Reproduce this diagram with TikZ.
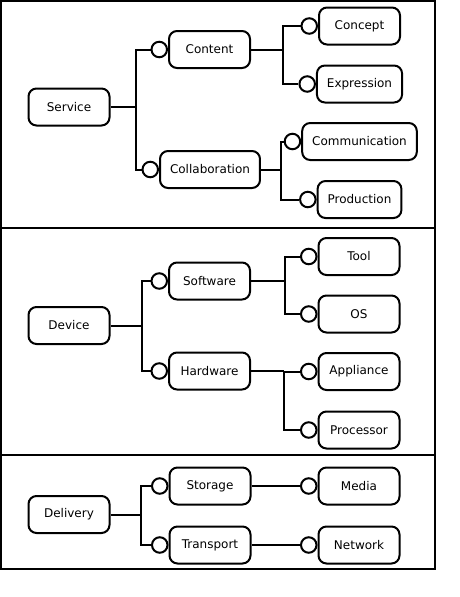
\documentclass[tikz,border=0pt]{standalone}
\usepackage{fontspec}
\setmainfont{DejaVu Sans}
\usepackage{tikz}
\usetikzlibrary{positioning}

\begin{document}
\begin{tikzpicture}[x=1pt, y=-1pt, line width=2pt,
  box/.style={draw, rounded corners=8pt, minimum width=81pt, minimum height=37pt,
    inner xsep=10pt, font=\fontsize{12}{14}\selectfont},
  port/.style={draw, circle, fill=white, minimum size=15.5pt, inner sep=0pt, anchor=east}]
\useasboundingbox (0,0) rectangle (459,597);
% Section frames
\draw (1,1) rectangle (435,228);
\draw (1,228) rectangle (435,455);
\draw (1,455) rectangle (435,569);
% Service
\node[box] (Service) at (69,107) {Service};
\node[box] (Content) at (209.5,49.5) {Content};
\node[box] (Collab) at (210,169.5) {Collaboration};
\node[box] (Concept) at (359.5,26) {Concept};
\node[box] (Expression) at (359.5,84) {Expression};
\node[box] (Communication) at (359.5,141.5) {Communication};
\node[box] (Production) at (359.5,199.5) {Production};
\node[port] (pContent) at (Content.west) {};
\node[port] (pCollab) at (Collab.west) {};
\node[port] (pConcept) at (Concept.west) {};
\node[port] (pExpression) at (Expression.west) {};
\node[port] (pCommunication) at (Communication.west) {};
\node[port] (pProduction) at (Production.west) {};
\draw (Service.east) -- ++(25,0) coordinate (tService);
\draw (tService) |- (pContent.west);
\draw (tService) |- (pCollab.west);
\draw (Content.east) -- ++(32,0) coordinate (tContent);
\draw (tContent) |- (pConcept.west);
\draw (tContent) |- (pExpression.west);
\draw (Collab.east) -- ++(20,0) coordinate (tCollab);
\draw (tCollab) |- (pCommunication.west);
\draw (tCollab) |- (pProduction.west);
% Device
\node[box] (Device) at (69,325.5) {Device};
\node[box] (Software) at (209.5,281) {Software};
\node[box] (Hardware) at (209.5,371) {Hardware};
\node[box] (Tool) at (359,256.5) {Tool};
\node[box] (OS) at (359,314) {OS};
\node[box] (Appliance) at (359,371.5) {Appliance};
\node[box] (Processor) at (359,430) {Processor};
\node[port] (pSoftware) at (Software.west) {};
\node[port] (pHardware) at (Hardware.west) {};
\node[port] (pTool) at (Tool.west) {};
\node[port] (pOS) at (OS.west) {};
\node[port] (pAppliance) at (Appliance.west) {};
\node[port] (pProcessor) at (Processor.west) {};
\draw (Device.east) -- ++(31,0) coordinate (tDevice);
\draw (tDevice) |- (pSoftware.west);
\draw (tDevice) |- (pHardware.west);
\draw (Software.east) -- ++(34,0) coordinate (tSoftware);
\draw (tSoftware) |- (pTool.west);
\draw (tSoftware) |- (pOS.west);
\draw (Hardware.east) -- ++(33,0) coordinate (tHardware);
\draw (tHardware) |- (pAppliance.west);
\draw (tHardware) |- (pProcessor.west);
% Delivery
\node[box] (Delivery) at (69,514.5) {Delivery};
\node[box] (Storage) at (210,486) {Storage};
\node[box] (Transport) at (210,545) {Transport};
\node[box] (Media) at (359,486) {Media};
\node[box] (Network) at (359,545) {Network};
\node[port] (pStorage) at (Storage.west) {};
\node[port] (pTransport) at (Transport.west) {};
\node[port] (pMedia) at (Media.west) {};
\node[port] (pNetwork) at (Network.west) {};
\draw (Delivery.east) -- ++(30,0) coordinate (tDelivery);
\draw (tDelivery) |- (pStorage.west);
\draw (tDelivery) |- (pTransport.west);
\draw (Storage.east) -- (pMedia.west);
\draw (Transport.east) -- (pNetwork.west);
\end{tikzpicture}
\end{document}
